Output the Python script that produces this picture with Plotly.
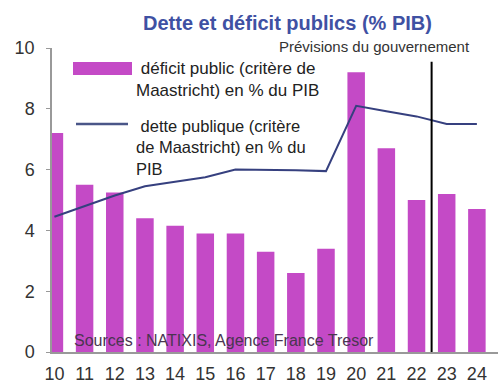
import plotly.graph_objects as go

# Years (two-digit labels) and the two series, in % of GDP on the left scale
years = ["10", "11", "12", "13", "14", "15", "16", "17", "18", "19", "20", "21", "22", "23", "24"]
deficit = [7.2, 5.5, 5.25, 4.4, 4.15, 3.9, 3.9, 3.3, 2.6, 3.4, 9.2, 6.7, 5.0, 5.2, 4.7]
dette = [4.45, 4.8, 5.15, 5.45, 5.6, 5.75, 6.0, 6.0, 5.98, 5.95, 8.1, 7.92, 7.75, 7.5, 7.5]
y_ticks = [0, 2, 4, 6, 8, 10]

BAR = "#c44ac6"
LINE = "#36407f"
FONT = "Liberation Sans, Arial, sans-serif"

W, H = 499, 385
ML, MR, MT, MB = 52, 1, 48, 33
PW, PH = W - ML - MR, H - MT - MB


def px(x):
    return (x - ML) / PW


def py(y):
    return (H - MB - y) / PH


fig = go.Figure()
fig.add_trace(go.Bar(x=years, y=deficit, marker=dict(color=BAR, line=dict(width=0)),
                     showlegend=False))
fig.add_trace(go.Scatter(x=years, y=dette, mode="lines",
                         line=dict(color=LINE, width=2), showlegend=False))

# Forecast separator between 22 and 23
fig.add_shape(type="line", xref="x", yref="y", x0=12.5, x1=12.5, y0=0, y1=9.55,
              line=dict(color="black", width=2))

# Hand-drawn legend
fig.add_shape(type="rect", xref="paper", yref="paper",
              x0=px(73), x1=px(132), y0=py(75), y1=py(62),
              fillcolor=BAR, line=dict(width=0))
fig.add_shape(type="line", xref="paper", yref="paper",
              x0=px(76), x1=px(128), y0=py(124), y1=py(124),
              line=dict(color="#4a5688", width=2.5))

annotations = [
    dict(text="<b>Dette et déficit publics (% PIB)</b>", x=px(287), y=py(23),
         font=dict(size=20, color="#3f51a3", family=FONT)),
    dict(text="Prévisions du gouvernement", x=px(374), y=py(47),
         font=dict(size=15, color="#333333", family=FONT)),
    dict(text="\u00a0déficit public (critère de<br>Maastricht) en % du PIB",
         x=px(134), y=py(79), xanchor="left", align="left",
         font=dict(size=17, color="#222222", family=FONT)),
    dict(text="\u00a0dette publique (critère<br>de Maastricht) en % du<br>PIB",
         x=px(134), y=py(147), xanchor="left", align="left",
         font=dict(size=16.5, color="#222222", family=FONT)),
    dict(text="Sources : NATIXIS, Agence France Tresor", x=px(72), y=py(340),
         xanchor="left", font=dict(size=16, color="#4a3550", family=FONT)),
]
for a in annotations:
    a.setdefault("xanchor", "center")
    fig.add_annotation(xref="paper", yref="paper", yanchor="middle",
                       showarrow=False, **a)

fig.update_layout(
    width=W, height=H,
    margin=dict(l=ML, r=MR, t=MT, b=MB),
    paper_bgcolor="white", plot_bgcolor="white",
    bargap=0.42,
    font=dict(family=FONT, color="#333333"),
)
fig.update_xaxes(
    type="category", range=[-0.08, 14.7],
    showline=True, linecolor="#999999", linewidth=1.5,
    showgrid=False, ticks="", tickfont=dict(size=18, color="#333333"),
    ticklabelstandoff=5, fixedrange=True,
)
fig.update_yaxes(
    range=[0, 10], tickvals=y_ticks,
    showline=True, linecolor="#999999", linewidth=1.5,
    showgrid=False, zeroline=False,
    ticks="outside", ticklen=4, tickcolor="#999999",
    tickfont=dict(size=18, color="#333333"),
    ticklabelstandoff=8, fixedrange=True,
)

fig.write_html("out.html", config={"displayModeBar": False})
